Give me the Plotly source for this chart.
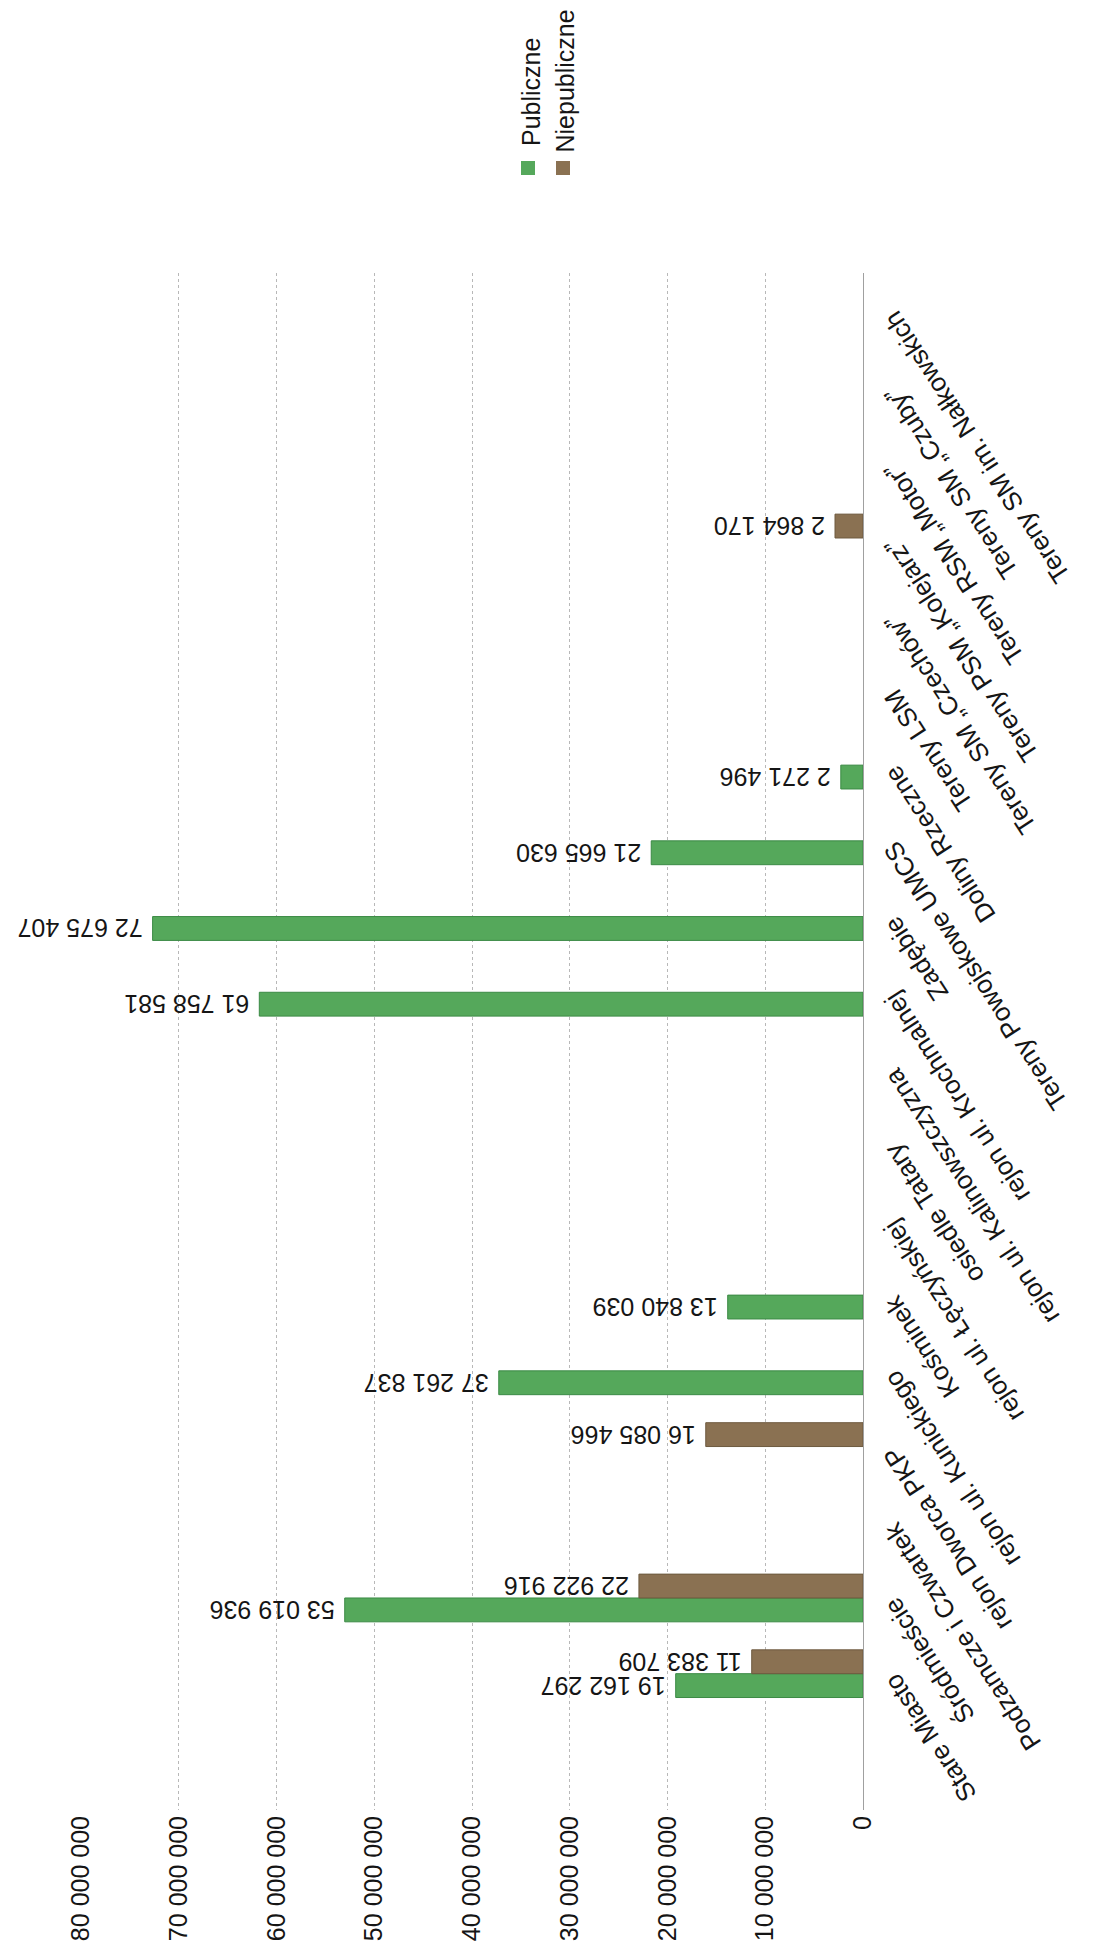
import plotly.graph_objects as go

# ---------------- data ----------------
categories = [
    "Stare Miasto", "Śródmieście", "Podzamcze i Czwartek", "rejon Dworca PKP",
    "rejon ul. Kunickiego", "Kośminek", "rejon ul. Łęczyńskiej", "osiedle Tatary",
    "rejon ul. Kalinowszczyzna", "rejon ul. Krochmalnej", "Zadębie",
    "Tereny Powojskowe UMCS", "Doliny Rzeczne", "Tereny LSM",
    "Tereny SM „Czechów”", "Tereny PSM „Kolejarz”", "Tereny RSM „Motor”",
    "Tereny SM „Czuby”", "Tereny SM im. Nałkowskich",
]
publiczne = [19162297, 53019936, None, None, 37261837, 13840039, None, None, None,
             61758581, 72675407, 21665630, 2271496, None, None, None, None, None, None]
niepubliczne = [11383709, 22922916, None, 16085466, None, None, None, None, None,
                None, None, None, None, None, None, 2864170, None, None, None]
series_names = ["Publiczne", "Niepubliczne"]
value_ticks = [0, 10000000, 20000000, 30000000, 40000000,
               50000000, 60000000, 70000000, 80000000]

# ---------------- style ----------------
W, H = 1094, 1952
L, R, T, B = 73, 239, 265, 150
FONT = "Liberation Sans, Arial, sans-serif"
GREEN, GREEN_EDGE = "#55a85b", "#3b8a45"
BROWN, BROWN_EDGE = "#8a7152", "#6e5a3f"
TXT = "#151515"


def fmt(v):
    # leading no-break space gives the small gap between bar end and label
    return "" if v is None else "\u00a0" + f"{v:,}".replace(",", " ")


def px_x(px):
    return (px - L) / (W - L - R)


def px_y(py):
    return (H - B - py) / (H - T - B)


fig = go.Figure()
for name, vals, col, edge in [(series_names[0], publiczne, GREEN, GREEN_EDGE),
                              (series_names[1], niepubliczne, BROWN, BROWN_EDGE)]:
    fig.add_trace(go.Bar(
        y=categories, x=vals, orientation="h", name=name,
        marker=dict(color=col, line=dict(color=edge, width=1)),
        text=[fmt(v) for v in vals], textposition="outside", textangle=180,
        textfont=dict(size=25, color=TXT, family=FONT),
        constraintext="none", cliponaxis=False, hoverinfo="x+y+name",
    ))

fig.update_layout(
    width=W, height=H,
    margin=dict(l=L, r=R, t=T, b=B, pad=0, autoexpand=False),
    paper_bgcolor="white", plot_bgcolor="white",
    barmode="group", bargap=0.37, bargroupgap=0,
    showlegend=False, separators=", ",
    font=dict(family=FONT, size=25, color=TXT),
    xaxis=dict(range=[80000000, 0], tickvals=value_ticks, tickformat=",d",
               tickangle=-90, showgrid=True, gridcolor="#b8b8b8", griddash="dot",
               gridwidth=1, zeroline=False, ticks="", showline=False,
               tickfont=dict(size=25, family=FONT, color=TXT)),
    yaxis=dict(categoryorder="array", categoryarray=categories, side="right",
               showticklabels=False, showgrid=False, showline=True,
               linecolor="#a0a0a0", linewidth=1, zeroline=False, ticks=""),
)

# category labels (rotated, upside-down like the reference)
for c in categories:
    fig.add_annotation(x=1, xref="paper", y=c, yref="y", text=c,
                       textangle=-123, xanchor="left", yanchor="top",
                       xshift=12, yshift=8, showarrow=False,
                       font=dict(size=26, family=FONT, color=TXT))

# custom rotated legend
legend_items = [(series_names[0], GREEN, 523, 140, 513),
                (series_names[1], BROWN, 556, 147, 548)]
for name, col, tx, ty, mx in legend_items:
    fig.add_annotation(x=px_x(tx), xref="paper", y=px_y(ty), yref="paper",
                       text=name, textangle=-90, xanchor="center", yanchor="bottom",
                       showarrow=False, font=dict(size=25, family=FONT, color=TXT))
    fig.add_shape(type="rect", xref="paper", yref="paper",
                  x0=px_x(mx), x1=px_x(mx + 14), y0=px_y(167), y1=px_y(153),
                  fillcolor=col, line=dict(width=0))

fig.write_html("out.html")
